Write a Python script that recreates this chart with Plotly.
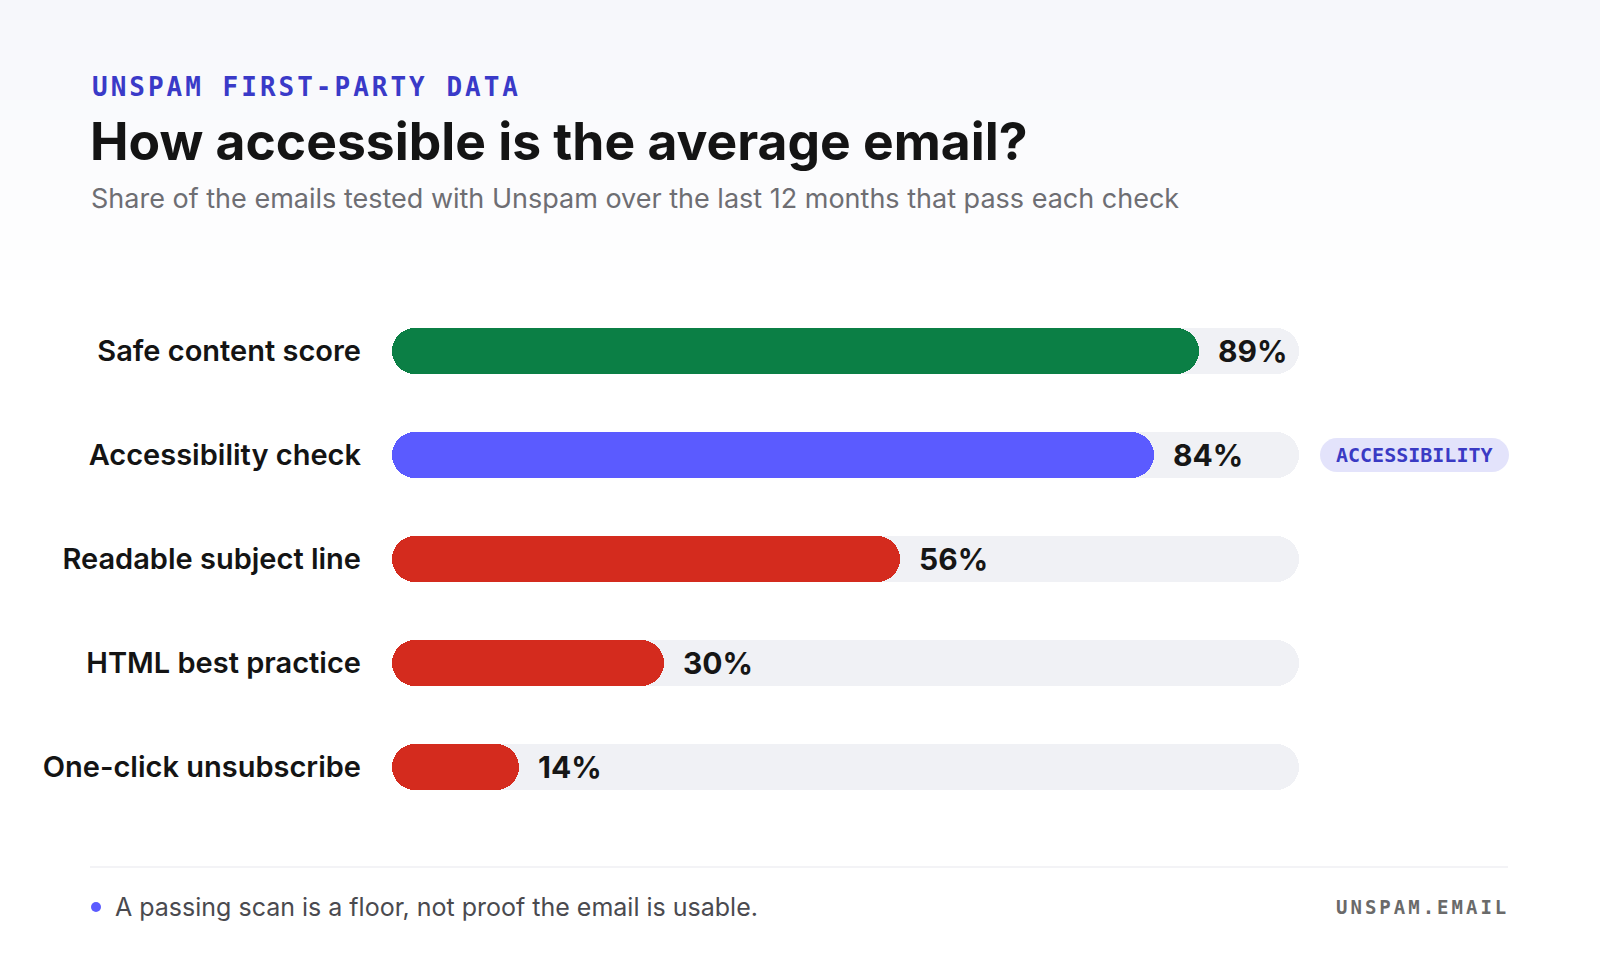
import plotly.graph_objects as go

# ---------------- data ----------------
categories = [
    "Safe content score",
    "Accessibility check",
    "Readable subject line",
    "HTML best practice",
    "One-click unsubscribe",
]
pass_rates = [89, 84, 56, 30, 14]
bar_colors = ["#0b7f45", "#5b5bff", "#d42b1e", "#d42b1e", "#d42b1e"]
track_max = 100
badge_category = "Accessibility check"
badge_text = "ACCESSIBILITY"

kicker = "UNSPAM FIRST-PARTY DATA"
title = "How accessible is the average email?"
subtitle = "Share of the emails tested with Unspam over the last 12 months that pass each check"
footnote = "A passing scan is a floor, not proof the email is usable."
source = "UNSPAM.EMAIL"

# ---------------- layout helpers ----------------
W, H = 1600, 960
def px(x):
    return x / W
def py(y):
    return 1 - y / H

SANS = "Inter, 'Noto Sans', sans-serif"
MONO = "'DejaVu Sans Mono', 'Liberation Mono', monospace"
TRACK = "#f0f1f5"
BAR_W = 0.433

fig = go.Figure()

def capsule(values, colors, name):
    # right piece (rounded right end) and left piece (rounded left end), overlapping in the middle
    fig.add_trace(go.Bar(
        y=categories, x=[v * 0.75 for v in values], base=[v * 0.25 for v in values],
        orientation="h", width=BAR_W, marker=dict(color=colors, cornerradius="50%", line=dict(width=0)),
        hoverinfo="skip", showlegend=False, name=name, cliponaxis=False,
    ))
    fig.add_trace(go.Bar(
        y=categories, x=[-v * 0.75 for v in values], base=[v * 0.75 for v in values],
        orientation="h", width=BAR_W, marker=dict(color=colors, cornerradius="50%", line=dict(width=0)),
        hoverinfo="skip", showlegend=False, name=name, cliponaxis=False,
    ))

capsule([track_max] * len(categories), [TRACK] * len(categories), "track")
capsule(pass_rates, bar_colors, "pass rate")

# value labels
annotations = []
for c, v in zip(categories, pass_rates):
    annotations.append(dict(
        x=v, y=c, xref="x", yref="y", text=f"{v}%", showarrow=False,
        xanchor="left", yanchor="middle", xshift=17,
        font=dict(family=SANS, size=30, color="#161616", weight=700),
    ))

# background gradient bands (top)
shapes = []
n = 30
top = (246, 247, 251)
for i in range(n):
    t = i / (n - 1)
    col = tuple(round(top[k] + (255 - top[k]) * t) for k in range(3))
    shapes.append(dict(
        type="rect", xref="paper", yref="paper", x0=0, x1=1,
        y0=py(300 * (i + 1) / n), y1=py(300 * i / n),
        fillcolor="rgb(%d,%d,%d)" % col, line=dict(width=0), layer="below",
    ))

# badge
bi = categories.index(badge_category)
bx0, bx1 = px(1320), px(1509)
hh = 17 / 104.0
rx = 17 / W
k = 0.5523
y0, y1 = bi - hh, bi + hh
path = (
    f"M{bx0 + rx},{y0} L{bx1 - rx},{y0} "
    f"C{bx1 - rx + rx * k},{y0} {bx1},{bi - hh * k} {bx1},{bi} "
    f"C{bx1},{bi + hh * k} {bx1 - rx + rx * k},{y1} {bx1 - rx},{y1} "
    f"L{bx0 + rx},{y1} "
    f"C{bx0 + rx - rx * k},{y1} {bx0},{bi + hh * k} {bx0},{bi} "
    f"C{bx0},{bi - hh * k} {bx0 + rx - rx * k},{y0} {bx0 + rx},{y0} Z"
)
shapes.append(dict(type="path", xref="paper", yref="y", path=path,
                   fillcolor="#e3e3fb", line=dict(width=0), layer="below"))
annotations.append(dict(
    x=(bx0 + bx1) / 2, y=badge_category, xref="paper", yref="y", text=badge_text,
    showarrow=False, xanchor="center", yanchor="middle",
    font=dict(family=MONO, size=20, color="#3a3ac4", weight=700),
))

# footer divider + dot
shapes.append(dict(type="line", xref="paper", yref="paper", x0=px(90), x1=px(1508),
                   y0=py(867), y1=py(867), line=dict(color="#efeff3", width=1.5)))
shapes.append(dict(type="circle", xref="paper", yref="paper",
                   x0=px(91), x1=px(101), y0=py(912), y1=py(902),
                   fillcolor="#5b5bff", line=dict(width=0)))

# header texts
annotations += [
    dict(x=px(90), y=py(87), xref="paper", yref="paper", showarrow=False,
         xanchor="left", yanchor="middle",
         text=f"<span style='letter-spacing:3px'>{kicker}</span>",
         font=dict(family=MONO, size=26, color="#3a3ac8", weight=700)),
    dict(x=px(88), y=py(141), xref="paper", yref="paper", showarrow=False,
         xanchor="left", yanchor="middle", text=title,
         font=dict(family=SANS, size=51.6, color="#141414", weight=700)),
    dict(x=px(89), y=py(198), xref="paper", yref="paper", showarrow=False,
         xanchor="left", yanchor="middle", text=subtitle,
         font=dict(family=SANS, size=27, color="#6e6e73")),
    dict(x=px(113), y=py(907), xref="paper", yref="paper", showarrow=False,
         xanchor="left", yanchor="middle", text=footnote,
         font=dict(family=SANS, size=25, color="#4a4a4f")),
    dict(x=px(1511), y=py(907), xref="paper", yref="paper", showarrow=False,
         xanchor="right", yanchor="middle",
         text=f"<span style='letter-spacing:3px'>{source}</span>",
         font=dict(family=MONO, size=19, color="#6a6a6a", weight=700)),
]

# plot area: rows centred at 351 .. 767 px, 104 px apart
fig.update_layout(
    width=W, height=H, margin=dict(l=0, r=0, t=0, b=0),
    paper_bgcolor="#ffffff", plot_bgcolor="rgba(0,0,0,0)",
    barmode="overlay", bargap=0,
    xaxis=dict(domain=[px(392), px(1299)], range=[0, track_max], visible=False, fixedrange=True),
    yaxis=dict(domain=[py(819), py(299)], autorange="reversed", type="category",
               showgrid=False, zeroline=False, showline=False, ticks="",
               ticklabelstandoff=30,
               tickfont=dict(family=SANS, size=29, color="#141414", weight=600)),
    shapes=shapes, annotations=annotations, showlegend=False,
)

fig.write_html("out.html")
